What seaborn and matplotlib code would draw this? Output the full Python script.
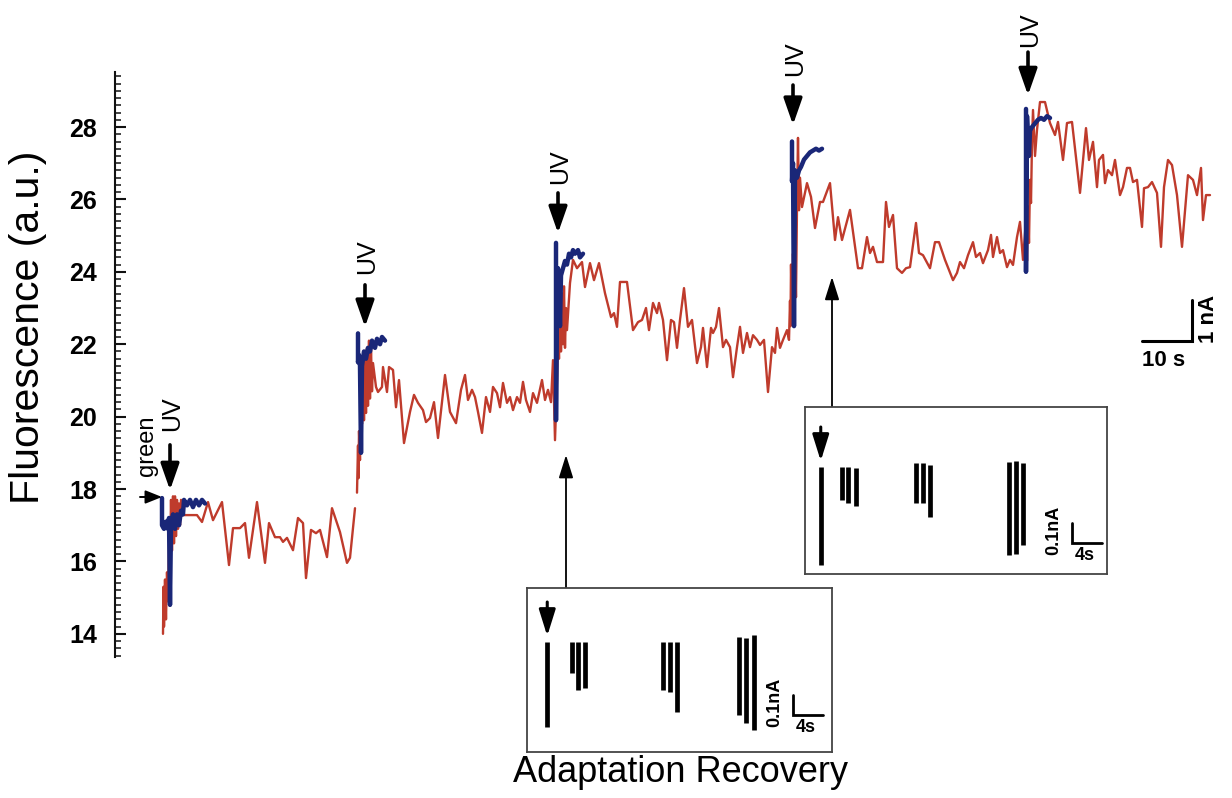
import numpy as np
import pandas as pd
import matplotlib
matplotlib.use("Agg")
import matplotlib.pyplot as plt
from matplotlib.ticker import MultipleLocator
import seaborn as sns

# ---------------- data (time in s, fluorescence in a.u.) ----------------
red1_t = [9.6, 9.7, 9.8, 10.0, 10.2, 10.4, 10.6, 10.8, 11.0, 11.2, 11.4, 11.6, 11.8, 12.0, 12.2, 12.4,
          12.6, 12.8, 13.0, 13.2, 13.6, 16.4, 17.4, 18.6, 19.6, 21.4, 22.8, 23.6, 25.0, 26.0, 26.8, 28.4,
          30.0, 30.8, 32.0, 33.0, 33.6, 34.4, 35.6, 36.6, 37.6, 38.2, 39.2, 40.2, 41.0, 42.4, 43.4, 45.0,
          46.4, 47.0, 48.0]
red1_f = [14.0, 15.3, 14.2, 15.5, 14.4, 15.7, 14.9, 16.6, 16.0, 17.7, 16.3, 17.8, 16.5, 17.8, 16.7, 17.7,
          16.9, 17.6, 17.0, 17.7, 17.28, 17.28, 17.09, 17.64, 17.14, 17.64, 15.9, 16.92, 16.92, 17.06, 16.1, 17.64,
          15.96, 17.06, 16.67, 16.67, 16.54, 16.65, 16.31, 17.2, 17.06, 15.54, 16.87, 16.78, 16.87, 16.12, 17.47, 16.81,
          15.96, 16.1, 17.47]

red2_t = [48.4, 48.6, 48.7, 48.8, 49.0, 49.2, 49.4, 49.6, 49.8, 50.0, 50.2, 50.4, 50.6, 50.8, 51.0, 51.2,
          51.4, 51.6, 52.2, 52.6, 53.4, 53.6, 54.4, 54.8, 55.6, 56.2, 56.8, 57.8, 59.0, 59.8, 60.6, 61.6,
          62.2, 63.0, 63.8, 64.6, 66.0, 67.0, 68.2, 69.2, 70.0, 70.6, 71.4, 72.0, 72.6, 73.4, 74.2, 75.0,
          75.6, 76.4, 77.0, 77.6, 78.4, 79.0, 79.6, 80.4, 81.0, 81.6, 82.2, 83.0, 83.6, 84.4, 85.4, 86.0,
          86.6, 87.2, 87.6, 88.0,
          88.4, 88.6, 88.8, 89.0, 89.2, 89.4, 89.6, 89.8, 90.0, 90.2, 90.4, 91.0, 91.6, 92.4, 93.4, 94.0,
          95.0, 95.8, 96.8, 98.0, 99.2, 99.8, 100.4, 101.0, 102.4, 103.6, 104.6, 105.4, 106.2, 106.8, 107.6,
          108.4, 108.8, 109.6, 110.4, 111.2, 111.8, 112.4, 113.0, 113.8, 114.6, 115.4, 116.4, 117.2, 117.6,
          118.4, 119.2, 119.6, 120.2, 120.8, 121.6, 122.2, 123.0, 123.6, 124.4, 125.0, 125.6, 126.4, 127.0,
          127.6, 128.4, 129.0, 129.8, 130.6, 131.4, 132.0, 132.4, 133.0, 133.6, 134.4, 134.8,
          135.0, 135.1, 135.2, 135.4, 135.6, 135.8, 136.0, 136.2, 136.4, 136.6, 136.8, 137.0, 137.4, 138.4,
          139.2, 140.0, 141.0, 141.6, 143.0, 144.0, 144.6, 145.4, 147.0, 148.6, 149.4, 150.4, 151.0, 151.6,
          152.4, 153.6, 154.2, 154.8, 155.6, 156.4, 157.4, 158.2, 159.0, 160.2, 160.8, 161.6, 163.0, 164.0,
          164.8, 166.0, 166.8, 167.6, 168.4, 169.0, 169.8, 170.6, 171.6, 172.2, 173.0, 173.6, 174.6, 175.2,
          175.6, 176.4, 177.0, 177.6, 178.4, 179.0, 179.6, 180.4, 181.0, 181.6, 182.2,
          182.4, 182.6, 182.8, 183.0, 183.2, 183.4, 183.6, 184.0, 184.4, 185.0, 186.0, 187.0, 188.0, 188.6,
          189.6, 190.4, 191.4, 193.0, 194.2, 194.8, 195.6, 196.4, 196.8, 197.6, 198.0, 198.6, 199.4, 200.0,
          201.0, 201.6, 202.4, 203.0, 203.6, 204.4, 205.4, 205.8, 206.6, 207.4, 208.4, 209.2, 209.8, 210.6,
          211.4, 212.4, 213.4, 214.6, 215.6, 216.4, 217.2, 217.6, 218.2, 219.0]
red2_f = [17.9, 19.2, 18.3, 19.6, 18.8, 20.6, 19.8, 21.4, 19.9, 21.7, 20.1, 21.9, 20.3, 22.1, 20.5, 21.9,
          20.7, 21.48, 20.82, 20.68, 20.82, 21.37, 20.68, 21.37, 21.29, 20.26, 21.01, 19.27, 20.13, 20.6, 20.38, 20.18,
          19.85, 19.96, 20.4, 19.41, 21.15, 20.13, 19.82, 20.74, 21.15, 20.46, 20.74, 20.54, 20.13, 19.55, 20.54, 20.13,
          20.82, 20.65, 20.26, 20.93, 20.38, 20.54, 20.18, 20.54, 20.38, 20.96, 20.46, 20.13, 20.65, 20.38, 21.01, 20.46,
          20.74, 20.4, 21.56, 19.35,
          21.0, 22.3, 21.6, 23.2, 21.8, 23.4, 22.0, 23.6, 21.9, 23.0, 22.39, 23.69, 24.33, 24.1, 24.27, 23.58,
          24.24, 23.77, 24.24, 23.41, 22.75, 22.86, 22.48, 23.72, 23.72, 22.39, 22.61, 22.67, 23.0, 22.39, 23.14,
          22.86, 23.14, 22.67, 21.56, 22.67, 22.61, 21.9, 22.67, 23.55, 22.48, 22.67, 21.48, 21.92, 22.45,
          21.37, 22.45, 22.31, 22.48, 23.0, 21.92, 22.12, 21.92, 21.09, 21.92, 22.48, 21.76, 22.31, 21.92,
          22.25, 22.12, 21.98, 22.12, 20.68, 21.92, 21.76, 22.45, 21.9, 22.12, 22.39, 22.12,
          23.2, 22.5, 24.2, 22.7, 24.5, 23.0, 24.6, 23.3, 25.8, 27.7, 25.7, 26.6, 25.79, 26.45,
          26.07, 25.21, 25.93, 25.93, 26.45, 24.88, 25.51, 24.88, 25.71, 24.1, 24.1, 24.96, 24.52, 24.69,
          24.27, 24.27, 25.93, 25.24, 25.57, 24.1, 23.97, 24.1, 24.13, 25.35, 24.52, 24.46, 24.1, 24.82,
          24.82, 24.33, 24.05, 23.77, 23.97, 24.27, 24.1, 24.46, 24.82, 24.41, 24.52, 24.24, 24.6, 25.02,
          24.41, 24.96, 24.52, 24.6, 24.13, 24.33, 24.19, 24.96, 25.38, 24.33, 25.43,
          24.3, 25.8, 24.8, 26.54, 25.9, 27.6, 28.47, 27.2, 27.92, 28.69, 28.69, 28.11, 27.78, 28.14,
          27.09, 28.11, 28.14, 26.18, 27.97, 27.09, 27.59, 26.34, 27.09, 27.23, 26.45, 26.81, 26.67, 27.09,
          26.12, 26.34, 26.87, 26.87, 26.48, 26.54, 25.24, 26.31, 26.34, 26.48, 26.18, 24.69, 26.34, 27.09,
          26.95, 26.12, 24.69, 26.67, 26.54, 26.12, 26.87, 25.43, 26.12, 26.12]

blue1_t = [9.4, 9.4, 9.8, 10.2, 10.6, 10.8, 11.0, 11.2, 11.6, 12.0, 12.4, 12.8, 13.2, 13.6, 13.8, 14.4,
           15.0, 15.6, 16.2, 16.8, 17.4, 18.0]
blue1_f = [17.75, 17.0, 16.9, 17.1, 16.9, 17.2, 14.8, 17.0, 17.3, 16.9, 17.3, 17.0, 17.4, 17.3, 17.7, 17.55,
           17.7, 17.5, 17.7, 17.55, 17.7, 17.6]
blue2_t = [48.6, 48.6, 48.8, 49.0, 49.2, 49.4, 49.8, 50.2, 50.6, 51.0, 51.4, 52.0, 52.4, 53.0, 53.4, 54.0]
blue2_f = [22.3, 21.5, 21.7, 21.4, 19.0, 21.4, 21.8, 21.6, 21.9, 21.8, 22.1, 21.9, 22.15, 22.0, 22.2, 22.1]
blue3_t = [88.2, 88.2, 88.4, 88.6, 88.8, 89.0, 89.2, 89.6, 90.0, 90.4, 90.8, 91.2, 91.6, 92.0, 92.6, 93.0, 93.6]
blue3_f = [24.8, 19.9, 24.0, 24.1, 23.8, 22.5, 23.9, 24.1, 24.3, 24.2, 24.5, 24.4, 24.6, 24.5, 24.6, 24.4, 24.5]
blue4_t = [135.4, 135.4, 135.6, 135.8, 136.0, 136.4, 136.8, 137.2, 137.8, 138.4, 139.0, 139.6, 140.2, 140.8, 141.4]
blue4_f = [27.6, 26.5, 27.0, 22.5, 26.8, 26.6, 26.8, 26.9, 27.1, 27.2, 27.3, 27.35, 27.4, 27.35, 27.4]
blue5_t = [182.2, 182.2, 182.4, 182.6, 182.8, 183.0, 183.4, 184.0, 184.6, 185.2, 185.8, 186.4, 187.0]
blue5_f = [28.5, 24.0, 28.3, 27.7, 27.2, 27.9, 28.0, 28.1, 28.2, 28.25, 28.2, 28.3, 28.25]

# inset recordings (time in s, current in nA, top / bottom of each deflection)
inset1_t = [2.7, 6.0, 6.8, 7.7, 18.1, 19.1, 20.0, 28.3, 29.2, 30.3]
inset1_top = [0.0, 0.0, 0.0, 0.0, 0.0, 0.0, 0.0, 0.025, 0.02, 0.035]
inset1_bot = [-0.425, -0.155, -0.24, -0.23, -0.24, -0.25, -0.35, -0.365, -0.405, -0.44]
inset2_t = [2.1, 4.9, 5.7, 6.8, 14.8, 15.7, 16.7, 27.2, 28.1, 29.1]
inset2_top = [0.0, 0.0, 0.0, -0.005, 0.02, 0.02, 0.01, 0.025, 0.03, 0.02]
inset2_bot = [-0.49, -0.165, -0.18, -0.195, -0.18, -0.18, -0.25, -0.44, -0.435, -0.39]

yticks = [14, 16, 18, 20, 22, 24, 26, 28]
flash_times = [11.0, 50.0, 88.6, 135.6, 182.6]

# ---------------- style ----------------
RED = "#bf3b2c"
BLUE = "#1a2778"
sns.set_theme(style="white")
plt.rcParams["font.family"] = ["Liberation Sans", "DejaVu Sans"]
plt.rcParams["text.color"] = "black"

fig = plt.figure(figsize=(12.32, 7.98), dpi=100)
ax = fig.add_axes([115 / 1232, 1 - 657 / 798, 1117 / 1232, 585 / 798])
ax.set_facecolor("none")

red_df = pd.concat([
    pd.DataFrame({"t": red1_t, "F": red1_f, "seg": 1}),
    pd.DataFrame({"t": red2_t, "F": red2_f, "seg": 2}),
])
blue_df = pd.concat([
    pd.DataFrame({"t": bt, "F": bf, "seg": i})
    for i, (bt, bf) in enumerate([(blue1_t, blue1_f), (blue2_t, blue2_f), (blue3_t, blue3_f),
                                  (blue4_t, blue4_f), (blue5_t, blue5_f)])
])

sns.lineplot(data=red_df, x="t", y="F", units="seg", estimator=None, sort=False,
             color=RED, lw=1.7, ax=ax, legend=False)
sns.lineplot(data=blue_df, x="t", y="F", units="seg", estimator=None, sort=False,
             color=BLUE, lw=3.2, ax=ax, legend=False)

ax.set_xlim(0, 223.4)
ax.set_ylim(13.36, 29.52)
for s in ["top", "right", "bottom"]:
    ax.spines[s].set_visible(False)
ax.spines["left"].set_color("#111111")
ax.spines["left"].set_linewidth(1.5)
ax.set_xticks([])
ax.set_yticks(yticks)
ax.set_yticklabels([str(v) for v in yticks], fontsize=18, fontweight="bold", color="black")
ax.yaxis.set_minor_locator(MultipleLocator(0.2))
ax.tick_params(axis="y", which="both", left=True, direction="in", color="#111111")
ax.tick_params(axis="y", which="major", length=8, width=1.5, pad=13)
ax.tick_params(axis="y", which="minor", length=4.5, width=1.1)
ax.set_xlabel("")
ax.set_ylabel("Fluorescence (a.u.)", fontsize=29.5, color="black")
ax.yaxis.set_label_coords(-0.061, 0.564)

# UV flash markers
uv_arrow_top = [19.22, 23.64, 26.18, 29.16, 30.07]
uv_arrow_tip = [17.97, 22.48, 25.07, 28.06, 28.88]
uv_text_y = [20.07, 24.41, 26.9, 29.88, 30.68]
for tx, a0, a1, ty in zip(flash_times, uv_arrow_top, uv_arrow_tip, uv_text_y):
    ax.annotate("", xy=(tx, a1), xytext=(tx, a0),
                arrowprops=dict(arrowstyle="-|>,head_length=0.8,head_width=0.28", lw=2.6,
                                color="black", shrinkA=0, shrinkB=0, mutation_scale=20),
                annotation_clip=False)
    ax.text(tx + 0.4, ty, "UV", rotation=90, fontsize=18, ha="center", va="center", clip_on=False)

# green marker
ax.annotate("", xy=(9.4, 17.78), xytext=(5.0, 17.78),
            arrowprops=dict(arrowstyle="-|>,head_length=0.5,head_width=0.2", lw=1.4,
                            color="black", shrinkA=0, shrinkB=0, mutation_scale=20))
ax.text(6.4, 19.2, "green", rotation=90, fontsize=17, ha="center", va="center")

# connecting arrows from insets
for tx, f0, f1 in [(90.2, 15.27, 18.94), (143.4, 20.27, 23.86)]:
    ax.annotate("", xy=(tx, f1), xytext=(tx, f0),
                arrowprops=dict(arrowstyle="-|>,head_length=0.7,head_width=0.22", lw=1.3,
                                color="black", shrinkA=0, shrinkB=0, mutation_scale=20),
                annotation_clip=False)

# main scale bar (10 s, 1 nA)
nA_height = 1.13
ax.plot([205.4, 215.4, 215.4], [22.09, 22.09, 22.09 + nA_height], color="black", lw=2.2,
        solid_joinstyle="miter", clip_on=False)
ax.text(209.8, 21.55, "10 s", fontsize=16, fontweight="bold", ha="center", va="center")
ax.text(218.6, 22.7, "1 nA", rotation=90, fontsize=16, fontweight="bold", ha="center", va="center")


def draw_inset(rect, times, tops, bots, xmax, ylo, yhi, arrow_t, sb_t, sb_y):
    ia = fig.add_axes(rect)
    ia.set_facecolor("white")
    ia.vlines(times, bots, tops, color="black", lw=3.4, capstyle="butt")
    ia.set_xlim(0, xmax)
    ia.set_ylim(ylo, yhi)
    ia.set_xticks([])
    ia.set_yticks([])
    for s in ia.spines.values():
        s.set_visible(True)
        s.set_color("#444444")
        s.set_linewidth(1.3)
    ia.annotate("", xy=(arrow_t, 0.03), xytext=(arrow_t, 0.2),
                arrowprops=dict(arrowstyle="-|>,head_length=0.8,head_width=0.25", lw=2.2,
                                color="black", shrinkA=0, shrinkB=0, mutation_scale=20))
    ia.plot([sb_t, sb_t, sb_t + 4], [sb_y + 0.1, sb_y, sb_y], color="black", lw=2.0,
            solid_joinstyle="miter")
    ia.text(sb_t - 2.4, sb_y + 0.065, "0.1nA", rotation=90, fontsize=13, fontweight="bold",
            ha="center", va="center")
    ia.text(sb_t + 1.7, sb_y - 0.065, "4s", fontsize=13, fontweight="bold", ha="center", va="center")
    return ia


draw_inset([527 / 1232, 1 - 752 / 798, 305 / 1232, 164 / 798], inset1_t, inset1_top, inset1_bot,
           40.67, -0.55, 0.27, inset1_t[0], 35.47, -0.365)
draw_inset([805 / 1232, 1 - 574 / 798, 302 / 1232, 167 / 798], inset2_t, inset2_top, inset2_bot,
           40.27, -0.535, 0.30, inset2_t[0], 35.6, -0.38)

fig.text(681 / 1232, 1 - 773 / 798, "Adaptation Recovery", fontsize=26, ha="center", va="center")

fig.savefig("out.png", dpi=100, facecolor="white")
